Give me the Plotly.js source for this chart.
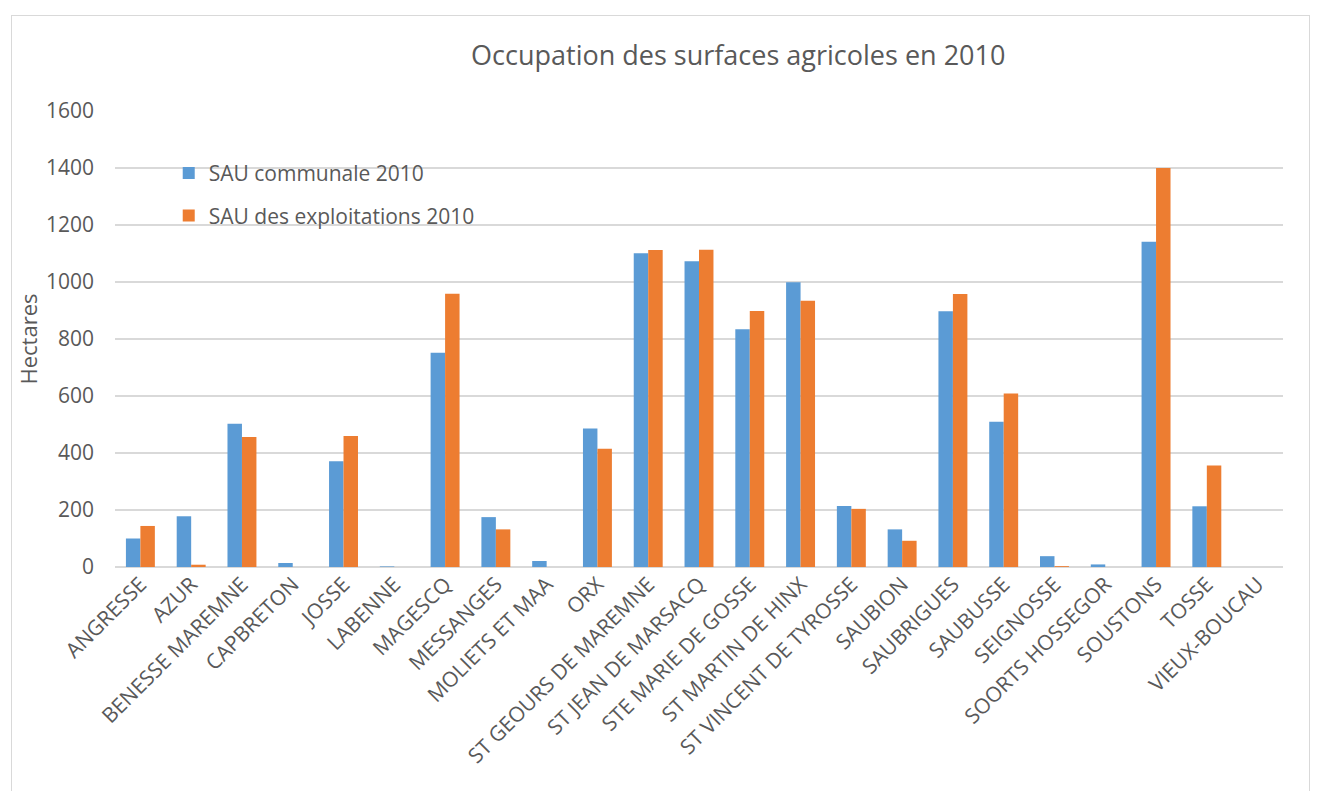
<!DOCTYPE html>
<html>
<head>
<meta charset="utf-8">
<script src="https://cdn.plot.ly/plotly-3.0.1.min.js"></script>
<style>
html,body{margin:0;padding:0;background:#fff;}
#wrap{position:relative;width:1323px;height:791px;overflow:hidden;}
#frame{position:absolute;left:11px;top:15px;width:1299px;height:800px;border:1px solid #d9d9d9;box-sizing:border-box;}
#chart{position:absolute;left:0;top:0;width:1323px;height:791px;}
</style>
</head>
<body>
<div id="wrap"><div id="frame"></div><div id="chart"></div></div>
<script>
const communes = ["ANGRESSE","AZUR","BENESSE MAREMNE","CAPBRETON","JOSSE","LABENNE","MAGESCQ","MESSANGES","MOLIETS ET MAA","ORX","ST GEOURS DE MAREMNE","ST JEAN DE MARSACQ","STE MARIE DE GOSSE","ST MARTIN DE HINX","ST VINCENT DE TYROSSE","SAUBION","SAUBRIGUES","SAUBUSSE","SEIGNOSSE","SOORTS HOSSEGOR","SOUSTONS","TOSSE","VIEUX-BOUCAU"];
const sauCommunale = [100,178,503,14,371,2,752,175,21,486,1101,1073,834,999,214,132,897,510,38,9,1141,213,0];
const sauExploitations = [144,8,456,0,460,0,959,132,0,415,1112,1113,898,934,204,92,958,609,3,0,1400,356,0];
const seriesNames = ["SAU communale 2010","SAU des exploitations 2010"];
const yTicks = [0,200,400,600,800,1000,1200,1400,1600];

const txt = "#595959";
const fontFam = "'Open Sans', sans-serif";

const data = [
  {type:"bar", name:seriesNames[0], x:communes, y:sauCommunale, marker:{color:"#5B9BD5"}, legendgroup:"a", hoverinfo:"x+y"},
  {type:"bar", name:seriesNames[1], x:communes, y:sauExploitations, marker:{color:"#ED7D31"}, legendgroup:"b", hoverinfo:"x+y"}
];

const layout = {
  width:1323, height:791,
  paper_bgcolor:"rgba(0,0,0,0)", plot_bgcolor:"rgba(0,0,0,0)",
  margin:{l:115, r:40, t:111, b:224, pad:0},
  font:{family:fontFam, color:txt, size:18},
  title:{text:"Occupation des surfaces agricoles en 2010", font:{family:fontFam, size:27, color:txt}, x:0.558, xanchor:"center", y:0.93, yanchor:"middle"},
  barmode:"group", bargap:0.43, bargroupgap:0,
  showlegend:true,
  legend:{x:0.046, y:0.908, xanchor:"left", yanchor:"top", font:{family:fontFam, size:21, color:txt}, bgcolor:"rgba(0,0,0,0)", traceorder:"grouped", tracegroupgap:12, itemwidth:30},
  xaxis:{type:"category", tickangle:-45, tickfont:{family:fontFam, size:21, color:txt}, showgrid:false, showline:false, ticks:"", zeroline:false, fixedrange:true},
  yaxis:{range:[0,1600], tickvals:yTicks, ticktext:yTicks.map(String), tickfont:{family:fontFam, size:21, color:txt}, showgrid:true, gridcolor:"#D9D9D9", gridwidth:1.5, zeroline:true, zerolinecolor:"#D9D9D9", zerolinewidth:1.5, showline:false, ticks:"", ticklabelstandoff:20,
    title:{text:"Hectares", font:{family:fontFam, size:22, color:txt}, standoff:2}}
};

Plotly.newPlot("chart", data, layout, {displayModeBar:false, staticPlot:true});
</script>
</body>
</html>
